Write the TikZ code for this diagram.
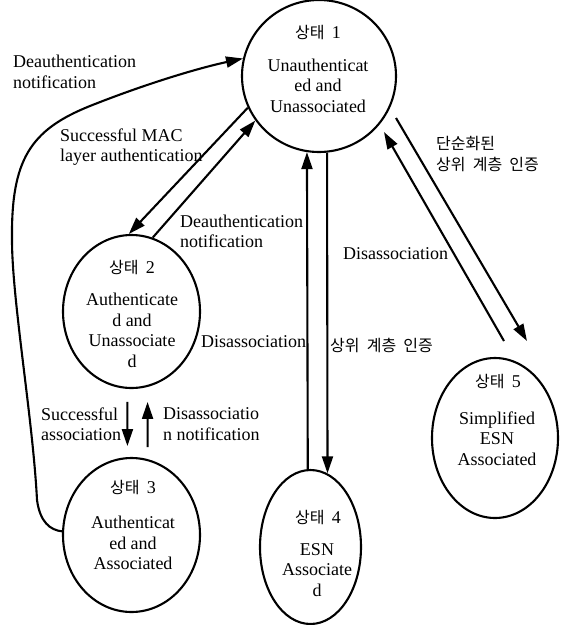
\documentclass[tikz,border=0pt]{standalone}
\usepackage{fontspec}
\setmainfont{Liberation Serif}
\newfontfamily\krfont[WordSpace=2]{Noto Sans CJK KR}
\newcommand\kotext[1]{{\krfont\fontsize{16}{21}\selectfont #1}}
\usetikzlibrary{arrows.meta,shapes.geometric}

\begin{document}
\begin{tikzpicture}[x=1pt,y=-1pt,
  state/.style={draw, ellipse, line width=2.1pt, inner sep=0pt},
  conn/.style={line width=2.1pt, -{Triangle[length=17pt,width=11pt]}},
  txt/.style={inner sep=0pt, align=center, font=\fontsize{18}{20.5}\selectfont},
  lbl/.style={inner sep=0pt, align=left, anchor=west, font=\fontsize{18}{20.5}\selectfont},
  korlbl/.style={inner sep=0pt, align=left, anchor=west, font=\krfont\fontsize{16}{21}\selectfont},
]
\useasboundingbox (0,0) rectangle (573,625);

% states
\node[state, minimum width=154pt, minimum height=152pt] (e1) at (319,76) {};
\node[state, minimum width=137pt, minimum height=153pt] (e2) at (131.5,311.5) {};
\node[state, minimum width=137pt, minimum height=154pt] (e3) at (131.5,535) {};
\node[state, minimum width=101pt, minimum height=154pt] (e4) at (310.5,547) {};
\node[state, minimum width=126pt, minimum height=160pt] (e5) at (495,438) {};

% state captions
\node[txt] (t1) at (318,33) {\kotext{상태 }1};
\node[txt] (b1) at (318,85.5) {Unauthenticat\\ed and\\Unassociated};
\node[txt] (t2) at (132,268) {\kotext{상태 }2};
\node[txt] (b2) at (132,330.5) {Authenticate\\d and\\Unassociate\\d};
\node[txt] (t3) at (133,488) {\kotext{상태 }3};
\node[txt] (b3) at (133,543) {Authenticat\\ed and\\Associated};
\node[txt] (t4) at (318,518) {\kotext{상태 }4};
\node[txt] (b4) at (317,570) {ESN\\Associate\\d};
\node[txt] (t5) at (498,382) {\kotext{상태 }5};
\node[txt] (b5) at (497,438.5) {Simplified\\ESN\\Associated};

% transition labels
\node[lbl] (l1) at (13,72) {Deauthentication\\notification};
\node[lbl] (l2) at (60,147) {Successful MAC\\layer authentication};
\node[lbl] (l3) at (180,231.5) {Deauthentication\\notification};
\node[lbl] (l4) at (201,342) {Disassociation};
\node[lbl] (l5) at (343,254) {Disassociation};
\node[korlbl] (l6) at (330,345) {상위 계층 인증};
\node[korlbl] (l7) at (436,154.5) {단순화된\\상위 계층 인증};
\node[lbl] (l8) at (41,424) {Successful\\association};
\node[lbl] (l9) at (163,424) {Disassociatio\\n notification};

% free ends of the state 1 / state 5 pair
\coordinate (a15s) at (396,118);
\coordinate (a15e) at (527,341);
\coordinate (a51s) at (504,341);
\coordinate (a51e) at (384,132);

% transitions
\draw[conn] (e1.204.6) -- (e2.92.6);
\draw[conn] (e2.74.8) -- (e1.215.8);
\draw[conn] (e4.92) -- (e1.261.7);
\draw[conn] (e1.-84) -- (e4.77.2);
\draw[conn] (a15s) -- (a15e);
\draw[conn] (a51s) -- (a51e);
\draw[conn, shorten <=13pt, shorten >=11pt] (e2.-93.4) -- (e3.93.4);
\draw[conn, shorten <=12pt, shorten >=15pt] (e3.78.3) -- (e2.-78.2);
\draw[conn] (e3.177.5) .. controls (50,530) and (40,522) .. (37,500)
  .. controls (33,420) and (12,300) .. (12,240)
  .. controls (11,160) and (30,130) .. (90,106)
  .. controls (135,88) and (190,70) .. (e1.167.7);
\end{tikzpicture}
\end{document}
